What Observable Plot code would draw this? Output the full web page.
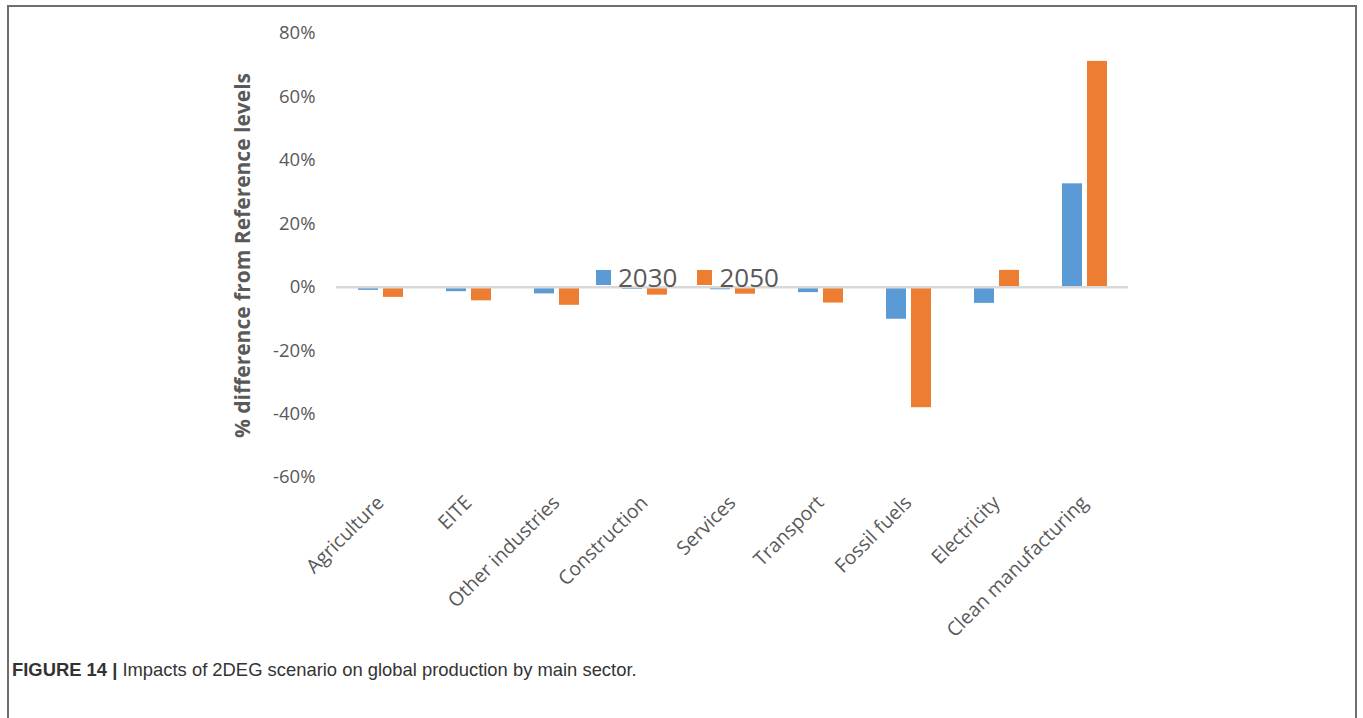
<!DOCTYPE html>
<html>
<head>
<meta charset="utf-8">
<script src="https://cdn.jsdelivr.net/npm/d3@7"></script>
<script src="https://cdn.jsdelivr.net/npm/@observablehq/plot@0.6"></script>
<style>
  html, body { margin: 0; padding: 0; background: #fff; }
  body { width: 1363px; height: 718px; position: relative; overflow: hidden; }
  #frame { position: absolute; left: 7px; top: 5px; width: 1346px; height: 740px; border: 2px solid #6e6e6e; border-bottom: none; }
  #chart { position: absolute; left: 0; top: 0; }
  #legend { position: absolute; left: 596px; top: 259px; display: flex; align-items: center; font-family: "Open Sans", sans-serif; font-size: 26px; color: #595959; }
  #legend .item { display: flex; align-items: center; margin-right: 20px; }
  #legend .sw { width: 15px; height: 15px; margin-right: 7px; }
  #caption { position: absolute; left: 12px; top: 659px; font-family: "Liberation Sans Narrow", "Liberation Sans", Arial, sans-serif; font-size: 18.4px; color: #333; white-space: nowrap; }
</style>
</head>
<body>
<div id="frame"></div>
<div id="chart"></div>
<div id="legend"></div>
<div id="caption"><b>FIGURE 14 |</b> Impacts of 2DEG scenario on global production by main sector.</div>
<script>
const sectors = ["Agriculture", "EITE", "Other industries", "Construction", "Services", "Transport", "Fossil fuels", "Electricity", "Clean manufacturing"];
const years = ["2030", "2050"];
const values2030 = [-1.0, -1.4, -2.1, -0.7, -0.8, -1.7, -10.1, -5.1, 32.6];
const values2050 = [-3.2, -4.3, -5.7, -2.5, -2.2, -5.0, -38.0, 5.3, 71.2];
const colors = ["#5B9BD5", "#ED7D31"];
const yTicks = [-60, -40, -20, 0, 20, 40, 60, 80];

const data = sectors.flatMap((s, i) => [
  {sector: s, year: years[0], value: values2030[i]},
  {sector: s, year: years[1], value: values2050[i]}
]);

const chart = Plot.plot({
  width: 1363,
  height: 660,
  marginLeft: 334,
  marginRight: 234,
  marginTop: 33,
  marginBottom: 183,
  style: {fontFamily: "'Open Sans', sans-serif", fontSize: "17px", color: "#595959", background: "transparent", overflow: "visible"},
  fx: {domain: sectors, padding: 0, label: null, tickRotate: -45, tickSize: 0, tickPadding: 22, axis: "bottom"},
  x: {domain: years, paddingInner: 0.22, paddingOuter: 0.845, axis: null},
  y: {domain: [-60, 80], ticks: yTicks, tickFormat: d => d + "%", tickSize: 0, tickPadding: 21,
      label: "% difference from Reference levels", labelAnchor: "center", labelArrow: "none", labelOffset: 101},
  color: {domain: years, range: colors},
  marks: [
    Plot.barY(data, {fx: "sector", x: "year", y: "value", fill: "year"}),
    Plot.ruleY([0], {stroke: "#d9d9d9", strokeWidth: 2.5})
  ]
});
document.getElementById("chart").appendChild(chart);

const svg = d3.select(chart);
svg.selectAll('g[aria-label="y-axis label"] text').attr("font-weight", "bold").attr("font-size", 21);
svg.selectAll('g[aria-label="y-axis tick label"] text').attr("font-size", 18.5);
svg.selectAll('g[aria-label="fx-axis tick label"] text').attr("font-size", 19.5);

const legend = d3.select("#legend");
years.forEach((y, i) => {
  const item = legend.append("div").attr("class", "item");
  item.append("div").attr("class", "sw").style("background", colors[i]);
  item.append("span").text(y);
});
</script>
</body>
</html>
